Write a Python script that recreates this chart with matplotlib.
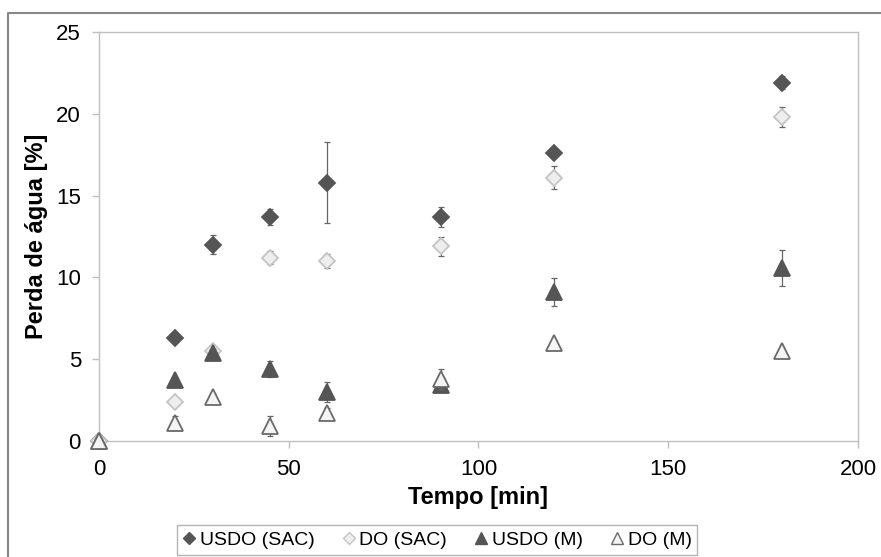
import matplotlib.pyplot as plt
from matplotlib.lines import Line2D

plt.rcParams['font.family'] = ['Liberation Sans', 'DejaVu Sans']

W, H = 881, 557

tempo = [0, 20, 30, 45, 60, 90, 120, 180]

usdo_sac = [0, 6.3, 12.0, 13.7, 15.8, 13.7, 17.6, 21.9]
usdo_sac_err = [0, 0.2, 0.6, 0.5, 2.45, 0.6, 0.2, 0.4]
do_sac = [0, 2.4, 5.5, 11.2, 11.0, 11.9, 16.1, 19.8]
do_sac_err = [0, 0.2, 0.2, 0.4, 0.45, 0.6, 0.7, 0.6]
usdo_m = [0, 3.7, 5.4, 4.4, 3.0, 3.4, 9.1, 10.6]
usdo_m_err = [0, 0.2, 0.2, 0.5, 0.6, 0.2, 0.85, 1.1]
do_m = [0, 1.1, 2.7, 0.9, 1.7, 3.8, 6.0, 5.5]
do_m_err = [0, 0.4, 0.2, 0.6, 0.3, 0.6, 0.2, 0.2]

labels = ["USDO (SAC)", "DO (SAC)", "USDO (M)", "DO (M)"]
x_ticks = [0, 50, 100, 150, 200]
y_ticks = [0, 5, 10, 15, 20, 25]

SERIES = [
    # values, err, marker, ms, face, edge
    (usdo_sac, usdo_sac_err, "D", 8, "#555555", "#555555"),
    (do_sac, do_sac_err, "D", 8, "#eeeeee", "#c4c4c4"),
    (usdo_m, usdo_m_err, "^", 11.5, "#555555", "#555555"),
    (do_m, do_m_err, "^", 11.5, "#f4f4f4", "#6a6a6a"),
]

fig = plt.figure(figsize=(W / 100, H / 100), dpi=100)
ax = fig.add_axes([99 / W, 1 - 441 / H, (858 - 99) / W, (441 - 32) / H])

handles = []
for i, (vals, err, mk, ms, fc, ec) in enumerate(SERIES):
    ax.errorbar(tempo, vals, yerr=err, fmt="none", ecolor="#666666",
                elinewidth=0.9, capsize=2.2, capthick=0.9, zorder=2 + i * 2)
    ax.plot(tempo, vals, linestyle="none", marker=mk, ms=ms,
            markerfacecolor=fc, markeredgecolor=ec, markeredgewidth=1.3,
            clip_on=False, zorder=3 + i * 2)
    handles.append(Line2D([], [], linestyle="none", marker=mk,
                          ms=6 if mk == "D" else 8,
                          markerfacecolor=fc, markeredgecolor=ec,
                          markeredgewidth=1.0))

ax.set_xlim(0, 200)
ax.set_ylim(0, 25)
ax.set_xticks(x_ticks)
ax.set_yticks(y_ticks)
ax.tick_params(axis="both", labelsize=16, direction="out", length=5,
               width=1, color="#bfbfbf", pad=8)
for s in ax.spines.values():
    s.set_color("#c0c0c0")
    s.set_linewidth(1)

ax.set_xlabel("Tempo [min]", fontsize=17, fontweight="bold", labelpad=4)
ax.set_ylabel("Perda de água [%]", fontsize=17, fontweight="bold", labelpad=6)

leg = fig.legend(handles, labels, loc="center", ncol=4,
                 bbox_to_anchor=(437 / W, 1 - 540 / H), fontsize=14,
                 handlelength=0.7, handletextpad=0.2, columnspacing=1.4,
                 borderpad=0.3, frameon=True, fancybox=False)
leg.get_frame().set_edgecolor("#a0a0a0")
leg.get_frame().set_linewidth(1)

# outer chart border (only left and top visible in the crop)
fig.add_artist(Line2D([8 / W, 8 / W, 1], [0, 1 - 13 / H, 1 - 13 / H],
                      transform=fig.transFigure, color="#888888", lw=1.5))

fig.savefig("out.png", dpi=100)
